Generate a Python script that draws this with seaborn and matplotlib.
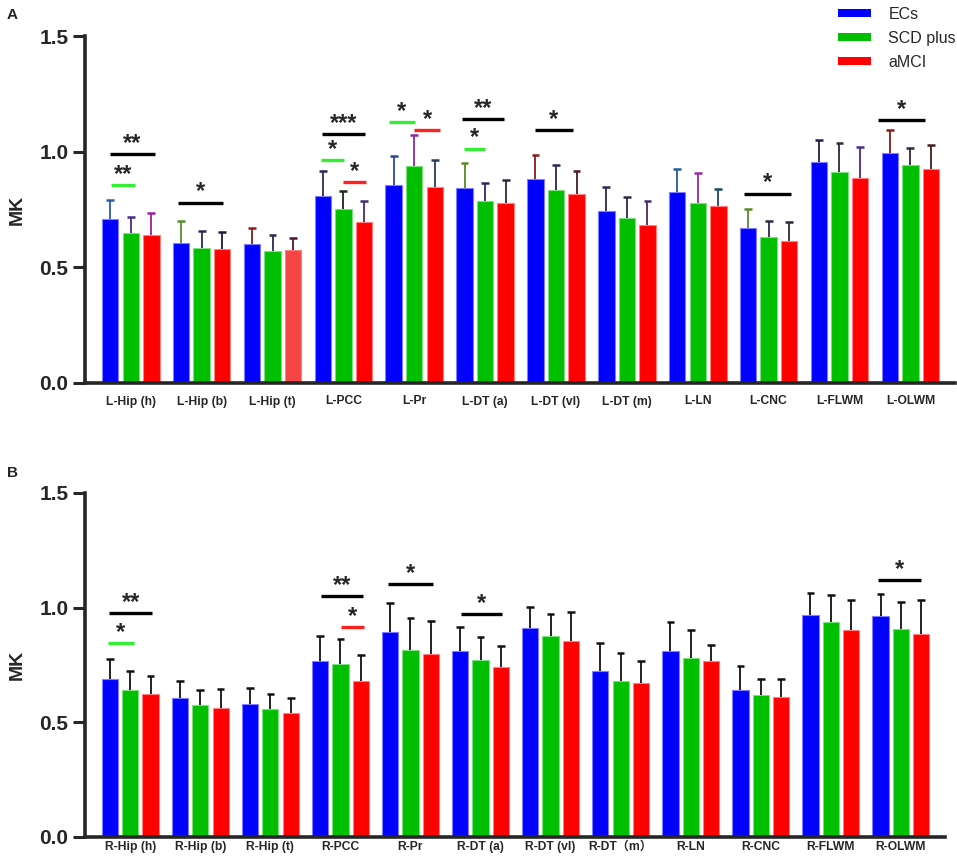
import numpy as np
import pandas as pd
import matplotlib
matplotlib.use("Agg")
import matplotlib.pyplot as plt
import seaborn as sns
from matplotlib.patches import Patch

# groups and colours
groups = ["ECs", "SCD plus", "aMCI"]
colors = ["#0000ff", "#00bf00", "#ff0000"]
edge_colors = ["#7f7fff", "#7fdf7f", "#ff8080"]

# panel A (left hemisphere)
regions_a = ["L-Hip (h)", "L-Hip (b)", "L-Hip (t)", "L-PCC", "L-Pr", "L-DT (a)",
             "L-DT (vl)", "L-DT (m)", "L-LN", "L-CNC", "L-FLWM", "L-OLWM"]
ecs_a = [0.709, 0.606, 0.603, 0.810, 0.858, 0.845, 0.881, 0.744, 0.825, 0.669, 0.954, 0.993]
scd_a = [0.648, 0.582, 0.571, 0.753, 0.936, 0.785, 0.833, 0.713, 0.777, 0.632, 0.910, 0.941]
mci_a = [0.638, 0.579, 0.577, 0.694, 0.846, 0.777, 0.816, 0.685, 0.767, 0.615, 0.887, 0.923]
ecs_sd_a = [0.081, 0.096, 0.065, 0.107, 0.122, 0.106, 0.105, 0.104, 0.101, 0.084, 0.098, 0.102]
scd_sd_a = [0.070, 0.073, 0.070, 0.075, 0.136, 0.080, 0.110, 0.090, 0.131, 0.070, 0.128, 0.077]
mci_sd_a = [0.098, 0.073, 0.051, 0.093, 0.116, 0.100, 0.101, 0.102, 0.071, 0.082, 0.135, 0.105]

# panel B (right hemisphere)
regions_b = ["R-Hip (h)", "R-Hip (b)", "R-Hip (t)", "R-PCC", "R-Pr", "R-DT (a)",
             "R-DT (vl)", "R-DT\uff08m\uff09", "R-LN", "R-CNC", "R-FLWM", "R-OLWM"]
ecs_b = [0.690, 0.608, 0.578, 0.769, 0.895, 0.813, 0.910, 0.724, 0.813, 0.641, 0.968, 0.964]
scd_b = [0.641, 0.576, 0.557, 0.753, 0.814, 0.773, 0.878, 0.680, 0.779, 0.621, 0.936, 0.906]
mci_b = [0.624, 0.564, 0.539, 0.680, 0.798, 0.741, 0.856, 0.672, 0.766, 0.609, 0.904, 0.887]
ecs_sd_b = [0.085, 0.074, 0.070, 0.107, 0.127, 0.101, 0.091, 0.120, 0.126, 0.105, 0.096, 0.096]
scd_sd_b = [0.083, 0.065, 0.068, 0.109, 0.139, 0.101, 0.096, 0.121, 0.125, 0.068, 0.121, 0.119]
mci_sd_b = [0.078, 0.080, 0.067, 0.114, 0.144, 0.093, 0.125, 0.097, 0.073, 0.079, 0.128, 0.148]

# significance marks: (region index, x start, x end, y, colour, stars)
sig_a = [
    (0, -0.29, 0.34, 0.990, "black", "**"),
    (0, -0.28, 0.06, 0.854, "#33ee33", "**"),
    (1, -0.33, 0.30, 0.780, "black", "*"),
    (3, -0.30, 0.30, 1.075, "black", "***"),
    (3, -0.32, 0.01, 0.962, "#33ee33", "*"),
    (3, -0.01, 0.32, 0.868, "#ff2020", "*"),
    (4, -0.36, 0.01, 1.128, "#33ee33", "*"),
    (4, 0.00, 0.36, 1.094, "#ff2020", "*"),
    (5, -0.33, 0.27, 1.141, "black", "**"),
    (5, -0.30, 0.00, 1.013, "#33ee33", "*"),
    (6, -0.30, 0.24, 1.094, "black", "*"),
    (9, -0.35, 0.32, 0.819, "black", "*"),
    (11, -0.45, 0.21, 1.136, "black", "*"),
]
sig_b = [
    (0, -0.30, 0.31, 0.977, "black", "**"),
    (0, -0.32, 0.05, 0.846, "#33ee33", "*"),
    (3, -0.28, 0.32, 1.049, "black", "**"),
    (3, 0.01, 0.34, 0.914, "#ff2020", "*"),
    (4, -0.32, 0.32, 1.103, "black", "*"),
    (5, -0.28, 0.30, 0.972, "black", "*"),
    (11, -0.32, 0.29, 1.119, "black", "*"),
]

# error bar colours in panel A vary (per region: ECs, SCD plus, aMCI)
err_col_a = [
    ["#2a5caa", "#4b2c8c", "#9b1fa0"], ["#5b8c2a", "#2a2a5a", "#1a1a3a"],
    ["#8b1a1a", "#2a2a4a", "#4a1a3a"], ["#2a2a5a", "#1a2a1a", "#4a2a6a"],
    ["#2a4a8a", "#8a2aa0", "#2a3a5a"], ["#5a8a2a", "#2a2a5a", "#2a2a3a"],
    ["#8a1a1a", "#2a2a5a", "#4a1a2a"], ["#2a2a4a", "#2a2a4a", "#4a2a6a"],
    ["#2a5a9a", "#9a2aa0", "#1a4a6a"], ["#5a8a2a", "#2a2a4a", "#2a2a3a"],
    ["#2a1a4a", "#2a2a3a", "#4a2a8a"], ["#8a1a1a", "#2a2a4a", "#4a1a1a"],
]
err_col_b = [["#111111"] * 3 for _ in regions_b]

sns.set_style("ticks")
plt.rcParams["font.family"] = ["Liberation Sans", "Noto Sans CJK SC", "DejaVu Sans"]


def draw_panel(ax, regions, means, sds, err_cols, sigs, xpad):
    df = pd.DataFrame({
        "region": regions * 3,
        "group": np.repeat(groups, len(regions)),
        "MK": np.concatenate(means),
    })
    sns.barplot(data=df, x="region", y="MK", hue="group", order=regions,
                hue_order=groups, palette=colors, saturation=1, width=0.87,
                gap=0.2, errorbar=None, legend=False, ax=ax)
    for j, cont in enumerate(ax.containers):
        for i, bar in enumerate(cont):
            bar.set_edgecolor(edge_colors[j])
            bar.set_linewidth(0.8)
            x = bar.get_x() + bar.get_width() / 2
            h = bar.get_height()
            top = h + sds[j][i]
            c = err_cols[i][j]
            ax.vlines(x, h, top, color=c, lw=1.3, zorder=3)
            ax.hlines(top, x - 0.055, x + 0.055, color=c, lw=1.8, zorder=3)
    for i, x0, x1, y, c, txt in sigs:
        ax.plot([i + x0, i + x1], [y, y], color=c, lw=2.4, solid_capstyle="butt")
        ax.text(i + (x0 + x1) / 2, y + 0.018, txt, ha="center", va="baseline",
                fontsize=17, fontweight="bold")

    ax.set_ylim(0, 1.5)
    ax.set_xlim(-0.646, 11.63)
    ax.set_yticks([0, 0.5, 1.0, 1.5])
    ax.set_yticklabels(["0.0", "0.5", "1.0", "1.5"], fontsize=15, fontweight="bold")
    for lab in ax.get_xticklabels():
        lab.set_fontsize(8.7)
        lab.set_fontweight("bold")
    ax.tick_params(axis="y", length=9, width=2.2, pad=3)
    ax.tick_params(axis="x", length=0, pad=xpad)
    ax.set_xlabel("")
    ax.set_ylabel("MK", fontsize=14, fontweight="bold", labelpad=10)
    sns.despine(ax=ax)
    for s in ["left", "bottom"]:
        ax.spines[s].set_linewidth(2.6)


fig = plt.figure(figsize=(9.57, 8.57), dpi=100)
ax_a = fig.add_axes([85 / 957, 1 - 383 / 857, 870 / 957, 347 / 857])
ax_b = fig.add_axes([85 / 957, 1 - 837 / 857, 860 / 957, 344 / 857])

draw_panel(ax_a, regions_a, [ecs_a, scd_a, mci_a], [ecs_sd_a, scd_sd_a, mci_sd_a],
           err_col_a, sig_a, 9)
draw_panel(ax_b, regions_b, [ecs_b, scd_b, mci_b], [ecs_sd_b, scd_sd_b, mci_sd_b],
           err_col_b, sig_b, 3)

# the aMCI bar of L-Hip (t) is a lighter red in the original
ax_a.containers[2][2].set_facecolor("#f54545")

fig.text(7 / 957, 1 - 8 / 857, "A", fontsize=11, fontweight="bold", va="top")
fig.text(7 / 957, 1 - 466 / 857, "B", fontsize=11, fontweight="bold", va="top")

handles = [Patch(facecolor=c, edgecolor="none") for c in colors]
fig.legend(handles, groups, loc="upper left", bbox_to_anchor=(838 / 957, 1 - 7 / 857),
           frameon=False, borderpad=0, borderaxespad=0, handlelength=2.05,
           handleheight=0.42, handletextpad=1.1, labelspacing=0.55,
           prop={"size": 11.5})

fig.savefig("out.png", dpi=100)
